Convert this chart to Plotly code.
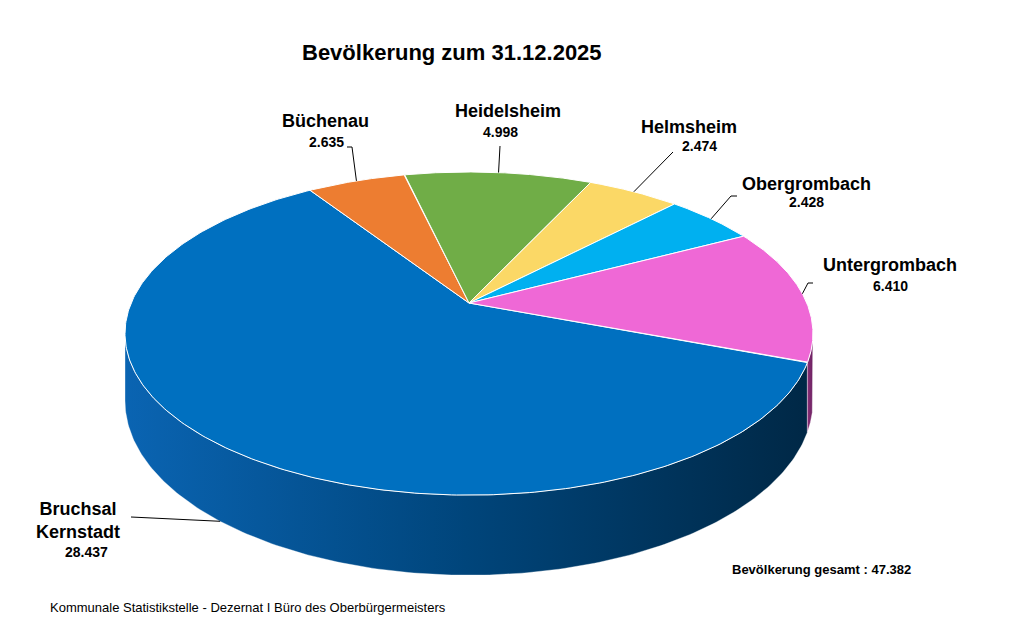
import numpy as np
import plotly.graph_objects as go

# ---------------- data ----------------
names = ["Bruchsal<br>Kernstadt", "Büchenau", "Heidelsheim", "Helmsheim", "Obergrombach", "Untergrombach"]
values = [28437, 2635, 4998, 2474, 2428, 6410]
value_labels = ["28.437", "2.635", "4.998", "2.474", "2.428", "6.410"]
title_text = "Bevölkerung zum 31.12.2025"
total_text = "Bevölkerung gesamt : 47.382"
footer_text = "Kommunale Statistikstelle - Dezernat I Büro des Oberbürgermeisters"

# ---------------- style ----------------
top_colors = ["#0070c0", "#ed7d31", "#70ad47", "#fbd866", "#00b0f0", "#ef68d6"]
side_scales = [
    [[0, "#0a64b2"], [0.5, "#00457b"], [1, "#002846"]],
    [[0, "#b35a1c"], [1, "#7a3a10"]],
    [[0, "#4f7f30"], [1, "#355520"]],
    [[0, "#c9a640"], [1, "#8a7028"]],
    [[0, "#0085b8"], [1, "#005a80"]],
    [[0, "#8a2f78"], [1, "#6a2060"]],
]
FONT = "Liberation Sans, Arial, sans-serif"
W, H = 1014, 634
OFF = 8                     # page body margin
CX, CY = 469.0, 303.0      # apex of pie on screen
A, B = 337.8, 155.8         # horizontal / vertical radius scale
K = 0.189                   # perspective factor
DEPTH = 65.0                # thickness
ROT = -20.9                 # start angle (deg), slices go clockwise

# label layout: (name x, name y, value x, value y, elbow points, anchor on bottom rim?)
label_layout = [
    (78, 520, 86, 552, [(131, 517)], True),
    (325, 121, 326, 142, [(347, 147), (352, 147)], False),
    (508, 111, 500, 132, [(500, 146)], False),
    (689, 127, 699, 146, [(673, 152)], False),
    (806, 184, 806, 202, [(737, 196), (731, 196)], False),
    (890, 265, 890, 286, [(813, 283), (808, 283)], False),
]


def proj(phi_deg, h=0.0):
    p = np.radians(phi_deg)
    u, v = np.cos(p), np.sin(p)
    w = 1 + K * v
    return CX + A * u / w, CY - B * v / w + DEPTH * h / w


total = sum(values)
spans = [360.0 * v / total for v in values]
slices = []
a = ROT
for s in spans:
    slices.append((a - s, a))  # (lo, hi) in CCW degrees
    a -= s

vis_lo = 180 + np.degrees(np.arcsin(K))
vis_hi = 360 - np.degrees(np.arcsin(K)) + 1.5

fig = go.Figure()

# sides
for i, (lo, hi) in enumerate(slices):
    for shift in (-720, -360, 0, 360, 720):
        l, h_ = lo + shift, hi + shift
        a0, a1 = max(l, vis_lo), min(h_, vis_hi)
        if a1 - a0 > 0.01:
            ang = np.linspace(a0, a1, 200)
            xt, yt = proj(ang, 0)
            xb, yb = proj(ang[::-1], 1)
            xs = np.concatenate([xt, xb, xt[:1]])
            ys = np.concatenate([yt, yb, yt[:1]])
            fig.add_trace(go.Scatter(
                x=xs, y=ys, mode="lines", fill="toself",
                line=dict(width=0.6, color="rgba(255,255,255,0.6)"),
                fillgradient=dict(type="horizontal", colorscale=side_scales[i]),
                hoverinfo="skip", showlegend=False))

# top faces
for i, (lo, hi) in enumerate(slices):
    ang = np.linspace(lo, hi, 300)
    xa, ya = proj(ang, 0)
    xs = np.concatenate([[CX], xa, [CX]])
    ys = np.concatenate([[CY], ya, [CY]])
    fig.add_trace(go.Scatter(
        x=xs, y=ys, mode="lines", fill="toself", fillcolor=top_colors[i],
        line=dict(width=1, color="white"), hoverinfo="skip", showlegend=False))

# leader lines + labels
lx, ly = [], []
annotations = []
for i, (lo, hi) in enumerate(slices):
    nx, ny, vx, vy, elbows, bottom = label_layout[i]
    mid = (lo + hi) / 2
    axp, ayp = proj(mid, 1 if bottom else 0)
    pts = list(elbows) + [(float(axp), float(ayp))]
    for px, py in pts:
        lx.append(px)
        ly.append(py)
    lx.append(None)
    ly.append(None)
    annotations.append(dict(x=nx, y=ny, xref="x", yref="y", text="<b>%s</b>" % names[i],
                            showarrow=False, font=dict(family=FONT, size=18, color="black"),
                            xanchor="center", yanchor="middle", align="center"))
    annotations.append(dict(x=vx, y=vy, xref="x", yref="y", text="<b>%s</b>" % value_labels[i],
                            showarrow=False, font=dict(family=FONT, size=14, color="black"),
                            xanchor="center", yanchor="middle"))

fig.add_trace(go.Scatter(x=lx, y=ly, mode="lines", line=dict(color="black", width=1),
                         hoverinfo="skip", showlegend=False))

annotations.append(dict(x=452, y=52, xref="x", yref="y", text="<b>%s</b>" % title_text,
                        showarrow=False, font=dict(family=FONT, size=22, color="black"),
                        xanchor="center", yanchor="middle"))
annotations.append(dict(x=730, y=569, xref="x", yref="y", text="<b>%s</b>" % total_text,
                        showarrow=False, font=dict(family=FONT, size=13, color="black"),
                        xanchor="left", yanchor="middle"))
annotations.append(dict(x=48, y=607, xref="x", yref="y", text=footer_text,
                        showarrow=False, font=dict(family=FONT, size=13, color="black"),
                        xanchor="left", yanchor="middle"))

fig.update_layout(
    width=W - OFF, height=H - OFF, margin=dict(l=0, r=0, t=0, b=0),
    paper_bgcolor="white", plot_bgcolor="white",
    xaxis=dict(range=[OFF, W], visible=False, fixedrange=True),
    yaxis=dict(range=[H, OFF], visible=False, fixedrange=True),
    annotations=annotations, showlegend=False,
)

fig.write_html("out.html")
